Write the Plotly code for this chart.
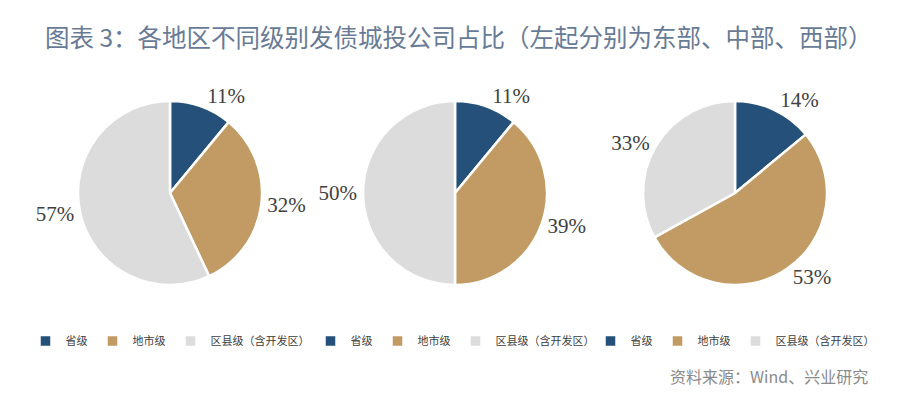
import plotly.graph_objects as go

categories = ["省级", "地市级", "区县级（含开发区）"]
east_values = [11, 32, 57]
central_values = [11, 39, 50]
west_values = [14, 53, 33]
regions = ["东部", "中部", "西部"]
colors = ["#24507a", "#c29b64", "#dcdcdc"]

title_text = "图表 3：各地区不同级别发债城投公司占比（左起分别为东部、中部、西部）"
source_text = "资料来源：Wind、兴业研究"

W, H = 900, 397
OFF = 8  # page body margin
centers_px = [170 - OFF, 455 - OFF, 735 - OFF]
cy_px = 193 - OFF
r_px = 92

fig = go.Figure()
legend_names = ["legend", "legend2", "legend3"]
for i, (vals, cx) in enumerate(zip([east_values, central_values, west_values], centers_px)):
    x0 = (cx - r_px) / W
    x1 = (cx + r_px) / W
    y0 = 1 - (cy_px + r_px) / H
    y1 = 1 - (cy_px - r_px) / H
    # zero-width spaces keep each pie's legend entries distinct
    labels_i = [c + "\u200b" * i for c in categories]
    fig.add_trace(go.Pie(
        labels=labels_i,
        values=vals,
        name=regions[i],
        sort=False,
        direction="clockwise",
        rotation=0,
        marker=dict(colors=colors, line=dict(color="white", width=2.5)),
        textposition="outside",
        texttemplate="%{value}%",
        textfont=dict(family="Liberation Serif", size=21, color="#404040"),
        domain=dict(x=[x0, x1], y=[y0, y1]),
        legend=legend_names[i],
        showlegend=True,
        hoverinfo="label+value",
    ))

legend_common = dict(
    orientation="h",
    yanchor="middle",
    xanchor="center",
    y=1 - (341 - OFF) / H,
    font=dict(family="Noto Sans CJK SC", size=11, color="#404040"),
    bgcolor="rgba(0,0,0,0)",
    itemwidth=30,
    traceorder="normal",
)

layout_legends = {}
for name, cx in zip(legend_names, centers_px):
    d = dict(legend_common)
    d["x"] = cx / W
    layout_legends[name] = d

fig.update_layout(
    width=W,
    height=H,
    margin=dict(l=0, r=0, t=0, b=0),
    paper_bgcolor="white",
    plot_bgcolor="white",
    **layout_legends,
    annotations=[
        dict(text=title_text, x=(459 - OFF) / W, y=1 - (37 - OFF) / H, xref="paper", yref="paper",
             xanchor="center", yanchor="middle", showarrow=False,
             font=dict(family="Noto Sans CJK SC", size=24.5, color="#687b96")),
        dict(text=source_text, x=(870 - OFF) / W, y=1 - (376 - OFF) / H, xref="paper", yref="paper",
             xanchor="right", yanchor="middle", showarrow=False,
             font=dict(family="Noto Sans CJK SC", size=16, color="#8a8a8a")),
    ],
)

fig.write_html("out.html")
